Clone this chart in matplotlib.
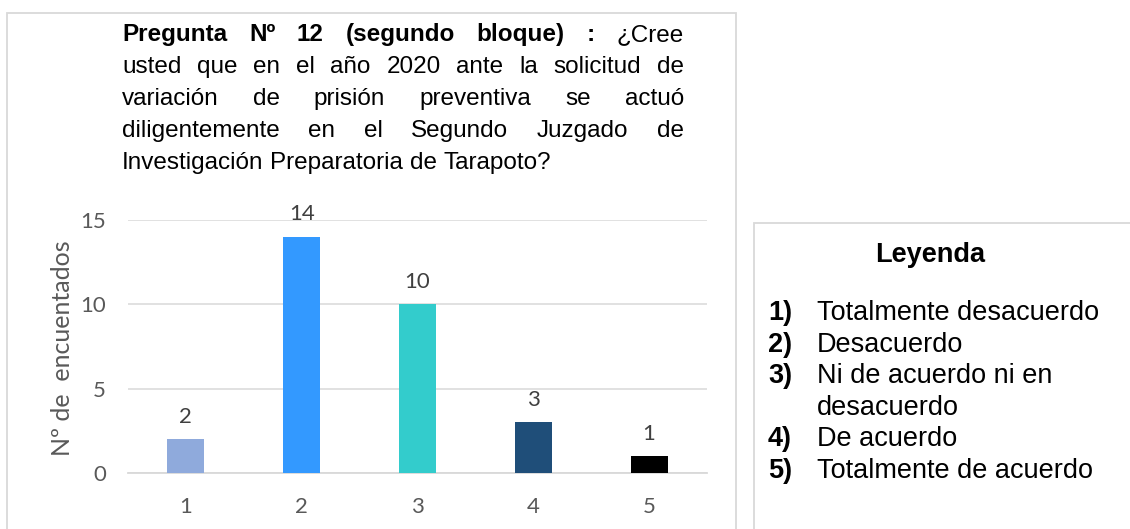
import matplotlib
matplotlib.use("Agg")
import matplotlib.pyplot as plt
from matplotlib.patches import Rectangle

# ---------------- data ----------------
categories = ["1", "2", "3", "4", "5"]
values = [2, 14, 10, 3, 1]
bar_colors = ["#8FAADC", "#3399FF", "#33CCCC", "#1F4E79", "#000000"]
y_ticks = [0, 5, 10, 15]
y_label = "Nº de  encuentados"

title_bold = "Pregunta Nº 12 (segundo bloque) :"
title_lines = [
    "¿Cree",
    "usted que en el año 2020 ante la solicitud de",
    "variación de prisión preventiva se actuó",
    "diligentemente en el Segundo Juzgado de",
    "Investigación Preparatoria de Tarapoto?",
]
legend_title = "Leyenda"
legend_items = [
    ("1)", "Totalmente desacuerdo"),
    ("2)", "Desacuerdo"),
    ("3)", "Ni de acuerdo ni en"),
    ("", "desacuerdo"),
    ("4)", "De acuerdo"),
    ("5)", "Totalmente de acuerdo"),
]

W, H = 1130, 529
DPI = 100
fig = plt.figure(figsize=(W / DPI, H / DPI), dpi=DPI)
fig.patch.set_facecolor("white")


def fx(x):
    return x / W


def fy(y):
    return 1 - y / H


ARIAL = ["Liberation Sans", "DejaVu Sans"]
TICKF = ["Lato", "DejaVu Sans"]
GRAY = "#595959"

# ---------------- borders ----------------
fig.patches.append(Rectangle((fx(7), fy(545)), fx(736) - fx(7), fy(13) - fy(545),
                             transform=fig.transFigure, fill=False,
                             edgecolor="#D9D9D9", linewidth=1.3))
fig.patches.append(Rectangle((fx(754), fy(545)), fx(1140) - fx(754), fy(223) - fy(545),
                             transform=fig.transFigure, fill=False,
                             edgecolor="#D9D9D9", linewidth=1.3))

# ---------------- axes ----------------
ax_l, ax_r, ax_top, ax_bot = 128, 707, 220, 473
ax = fig.add_axes([fx(ax_l), fy(ax_bot), fx(ax_r) - fx(ax_l), fy(ax_top) - fy(ax_bot)])
x = list(range(1, len(categories) + 1))
ax.bar(x, values, width=0.32, color=bar_colors, zorder=3)
ax.set_xlim(0.5, len(categories) + 0.5)
ax.set_ylim(0, 15)
ax.set_yticks(y_ticks)
ax.set_xticks(x)
ax.set_xticklabels(categories)
ax.yaxis.grid(True, color="#D9D9D9", linewidth=1.1, zorder=0)
ax.set_axisbelow(True)
for s in ["top", "right", "left"]:
    ax.spines[s].set_visible(False)
ax.spines["bottom"].set_color("#D9D9D9")
ax.spines["bottom"].set_linewidth(1.3)
ax.tick_params(axis="both", length=0, colors=GRAY, labelsize=16)
ax.tick_params(axis="y", pad=16)
ax.tick_params(axis="x", pad=17)
for lab in ax.get_xticklabels() + ax.get_yticklabels():
    lab.set_fontfamily(TICKF)
for xi, v in zip(x, values):
    ax.annotate(str(v), (xi, v), xytext=(0, 9), textcoords="offset points",
                ha="center", va="bottom", fontsize=16, color="#404040",
                family=TICKF, annotation_clip=False)

fig.text(fx(62), fy(348), y_label, rotation=90, ha="center", va="center",
         fontsize=18, color=GRAY, family=TICKF)

# ---------------- justified title ----------------
renderer = fig.canvas.get_renderer()
TS = 17.5
left, right = 122, 684
baselines = [41, 73, 105, 137, 169]


def place_words(words, y, justify):
    texts = []
    for w, wt in words:
        t = fig.text(0, fy(y), w, fontsize=TS, fontweight=wt, family=ARIAL,
                     color="black", va="baseline", ha="left")
        texts.append(t)
    widths = [t.get_window_extent(renderer).width for t in texts]
    t1 = fig.text(0, 0, "a a", fontsize=TS, family=ARIAL)
    t2 = fig.text(0, 0, "aa", fontsize=TS, family=ARIAL)
    sp = t1.get_window_extent(renderer).width - t2.get_window_extent(renderer).width
    t1.remove()
    t2.remove()
    if justify and len(words) > 1:
        gap = (right - left - sum(widths)) / (len(words) - 1)
    else:
        gap = sp
    cur = left
    for t, wd in zip(texts, widths):
        t.set_x(fx(cur))
        cur += wd + gap


line1 = [(w, "bold") for w in title_bold.split()] + [(w, "normal") for w in title_lines[0].split()]
place_words(line1, baselines[0], True)
for i, line in enumerate(title_lines[1:], start=1):
    place_words([(w, "normal") for w in line.split()], baselines[i],
                justify=(i < len(title_lines) - 1))

# ---------------- legend box ----------------
LS = 19.5
fig.text(fx(930), fy(255), legend_title, ha="center", va="center", fontsize=LS,
         fontweight="bold", family=ARIAL, color="black")
y0, dy = 313, 31.6
for k, (num, lab) in enumerate(legend_items):
    yy = y0 + k * dy
    if num:
        fig.text(fx(768), fy(yy), num, ha="left", va="center", fontsize=LS,
                 fontweight="bold", family=ARIAL, color="black")
    fig.text(fx(817), fy(yy), lab, ha="left", va="center", fontsize=LS,
             family=ARIAL, color="black")

fig.savefig("out.png", dpi=DPI, facecolor="white")
